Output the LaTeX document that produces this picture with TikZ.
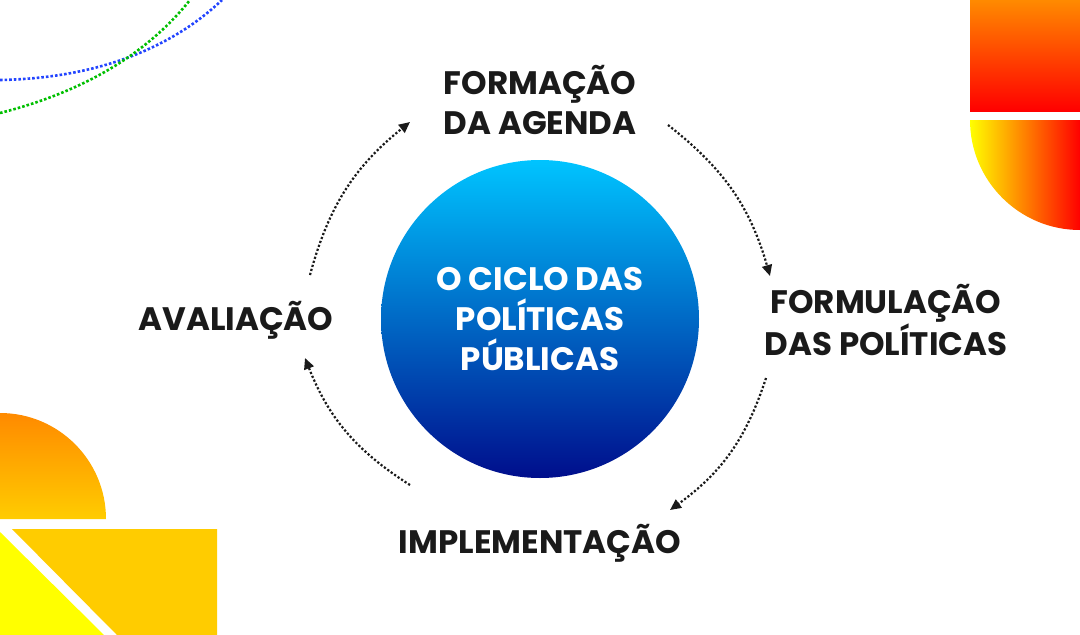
\documentclass[tikz,border=0pt]{standalone}
\usepackage{fontspec}
\setmainfont{Poppins}
\usetikzlibrary{arrows.meta,positioning}
\definecolor{cyclecyan}{HTML}{00C4FF}
\definecolor{cycleblue}{HTML}{2244FF}
\definecolor{cycledark}{HTML}{000E8C}
\definecolor{decoorange}{HTML}{FF8A00}
\definecolor{decored}{HTML}{FF0000}
\definecolor{decoyellow}{HTML}{FFFF00}
\definecolor{decogold}{HTML}{FFCC00}
\definecolor{labeltext}{HTML}{1A1A1A}
\tikzset{
  stage/.style={align=center, font=\fontsize{32.5}{40}\selectfont\bfseries, text=labeltext, inner sep=0pt},
  cyclearrow/.style={line width=2.2pt, dotted, draw=labeltext, -{Triangle[length=11pt,width=10pt]}},
}
\begin{document}
\begin{tikzpicture}[x=1pt,y=-1pt]
  \useasboundingbox (0,0) rectangle (1080,635);
  % decorations
  \draw[line width=2.6pt, dotted, draw=cycleblue] (0,80) .. controls (110,78) and (180,40) .. (222,0);
  \draw[line width=2.6pt, dotted, draw=green!75!black] (0,113) .. controls (90,90) and (150,50) .. (190,0);
  \shade[top color=decoorange, bottom color=decored] (970,0) rectangle (1080,111);
  \shade[left color=decoyellow, right color=decored] (970,120) arc[start angle=180, end angle=90, radius=110] -- (1080,120) -- cycle;
  \shade[top color=decoorange, bottom color=decogold] (0,413) arc[start angle=270, end angle=360, radius=106] -- (0,519) -- cycle;
  \fill[decogold] (12,529) -- (217,529) -- (217,635) -- (117,635) -- cycle;
  \fill[decoyellow] (0,532) -- (0,635) -- (104,635) -- cycle;
  % centre
  \shade[top color=cyclecyan, middle color=cycleblue, bottom color=cycledark] (540,319) circle[radius=159];
  \node[stage, text=white] (centre) at (540,319) {O CICLO DAS\\POLÍTICAS\\PÚBLICAS};
  % stages
  \node[stage] (agenda) at (540,100) {FORMAÇÃO\\DA AGENDA};
  \node[stage] (formul) at (886,320) {FORMULAÇÃO\\DAS POLÍTICAS};
  \node[stage] (implem) at (540,543) {IMPLEMENTAÇÃO};
  \node[stage] (aval) at (236,320) {AVALIAÇÃO};
  % arrows
  \coordinate (a1) at (668,125);
  \coordinate (a2) at (770,276);
  \coordinate (b1) at (766,378);
  \coordinate (b2) at (670,510);
  \coordinate (c1) at (410,485);
  \coordinate (c2) at (305,358);
  \coordinate (d1) at (310,275);
  \coordinate (d2) at (410,122);
  \draw[cyclearrow] (a1) to[bend left=18] (a2);
  \draw[cyclearrow] (b1) to[bend left=18] (b2);
  \draw[cyclearrow] (c1) to[bend left=18] (c2);
  \draw[cyclearrow] (d1) to[bend left=18] (d2);
\end{tikzpicture}
\end{document}
